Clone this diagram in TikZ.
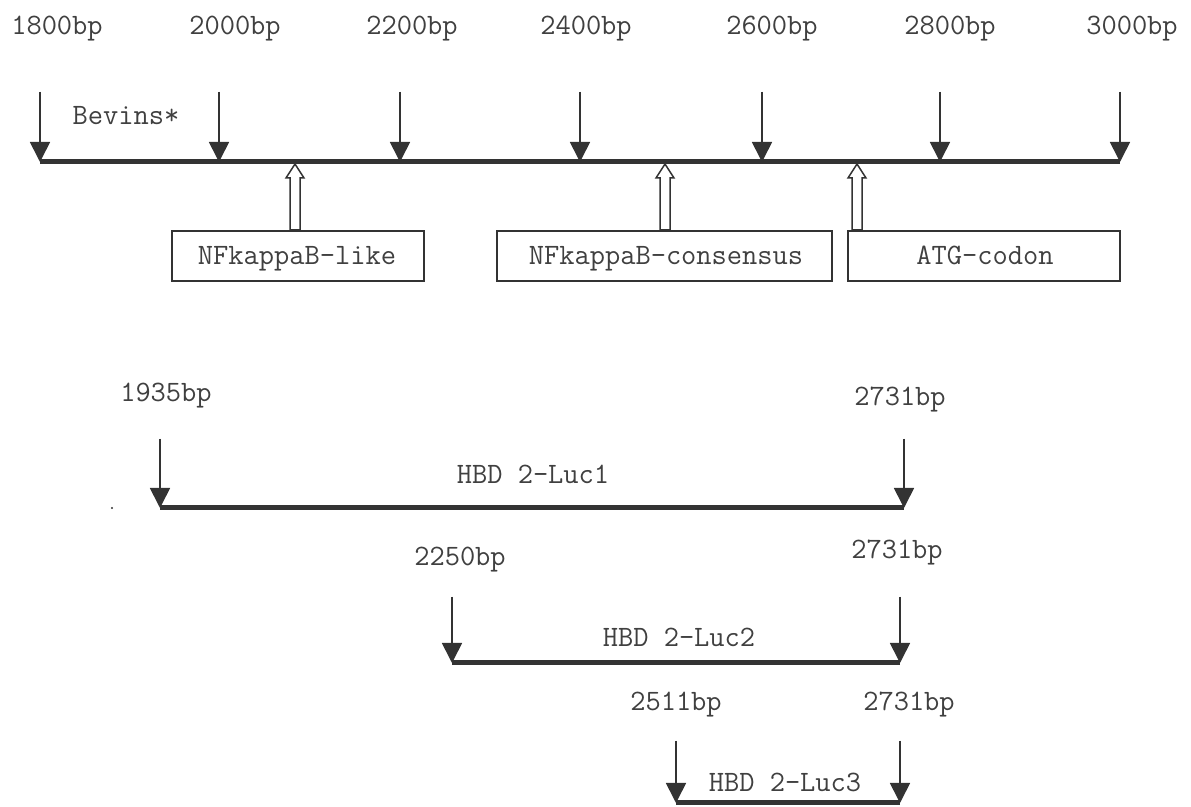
\documentclass[tikz,border=0pt]{standalone}
\usepackage{fontspec}
\usetikzlibrary{arrows.meta,calc}
\definecolor{ink}{HTML}{333333}
\definecolor{txt}{HTML}{404040}
\tikzset{
  lbl/.style={font=\ttfamily\fontsize{14.8pt}{16pt}\selectfont, text=txt, inner sep=0pt, anchor=base},
  tick/.style={draw=ink, line width=0.85pt, -{Triangle[width=10pt,length=10pt]}, fill=ink},
  axis/.style={draw=ink, line width=2.5pt},
  sitebox/.style={draw=ink, line width=0.7pt, rectangle, inner sep=0pt},
  hollow/.style={draw=ink, line width=0.75pt, fill=white, line join=miter},
}
\begin{document}
\begin{tikzpicture}[x=0.5pt,y=-0.5pt]
\useasboundingbox (0,0) rectangle (1191,807);
% ---------- top axis ----------
\foreach \n/\x in {a/40,b/219,c/400,d/580,e/762,f/940,g/1120}{
  \coordinate (t\n) at (\x,92);
  \coordinate (p\n) at (\x,162);
}
\draw[axis] (pa) -- (pg);
\foreach \n in {a,b,c,d,e,f,g}{ \draw[tick] (t\n) -- (p\n); }
\foreach \n/\x/\t in {a/57/1800bp,b/235/2000bp,c/412/2200bp,d/586/2400bp,e/772/2600bp,f/950/2800bp,g/1132/3000bp}{
  \node[lbl] (l\n) at (\x,35) {\t};
}
\node[lbl] (bevins) at (126,125) {Bevins*};
% ---------- boxes ----------
\node[sitebox, minimum width=126pt, minimum height=25pt] (b1) at (298,256) {};
\node[sitebox, minimum width=167.5pt, minimum height=25pt] (b2) at (664.5,256) {};
\node[sitebox, minimum width=136pt, minimum height=25pt] (b3) at (984,256) {};
\node[lbl] (b1t) at (297,265) {NFkappaB-like};
\node[lbl] (b2t) at (666,265) {NFkappaB-consensus};
\node[lbl] (b3t) at (985,265) {ATG-codon};
% ---------- hollow arrows ----------
\foreach \x in {295,665,857}{
  \draw[hollow] (\x-5,230) -- (\x-5,178) -- (\x-9,178) -- (\x,164) -- (\x+9,178) -- (\x+5,178) -- (\x+5,230) -- cycle;
}
% ---------- HBD 2-Luc1 ----------
\coordinate (s1t) at (160,439); \coordinate (s1b) at (160,508);
\coordinate (e1t) at (904,439); \coordinate (e1b) at (904,508);
\draw[axis] (s1b) -- (e1b);
\draw[tick] (s1t) -- (s1b);
\draw[tick] (e1t) -- (e1b);
\node[lbl] (s1l) at (166,402) {1935bp};
\node[lbl] (e1l) at (900,406) {2731bp};
\node[lbl] (luc1) at (533,484) {HBD 2-Luc1};
\fill[ink] (112,508) circle (0.6pt);
% ---------- HBD 2-Luc2 ----------
\coordinate (s2t) at (452,597); \coordinate (s2b) at (452,663);
\coordinate (e2t) at (900,597); \coordinate (e2b) at (900,663);
\draw[axis] (s2b) -- (e2b);
\draw[tick] (s2t) -- (s2b);
\draw[tick] (e2t) -- (e2b);
\node[lbl] (s2l) at (460,566) {2250bp};
\node[lbl] (e2l) at (897,559) {2731bp};
\node[lbl] (luc2) at (679,647) {HBD 2-Luc2};
% ---------- HBD 2-Luc3 ----------
\coordinate (s3t) at (676,741); \coordinate (s3b) at (676,803);
\coordinate (e3t) at (900,741); \coordinate (e3b) at (900,803);
\draw[axis] (s3b) -- (e3b);
\draw[tick] (s3t) -- (s3b);
\draw[tick] (e3t) -- (e3b);
\node[lbl] (s3l) at (676,711) {2511bp};
\node[lbl] (e3l) at (909,711) {2731bp};
\node[lbl] (luc3) at (785,792) {HBD 2-Luc3};
\end{tikzpicture}
\end{document}
